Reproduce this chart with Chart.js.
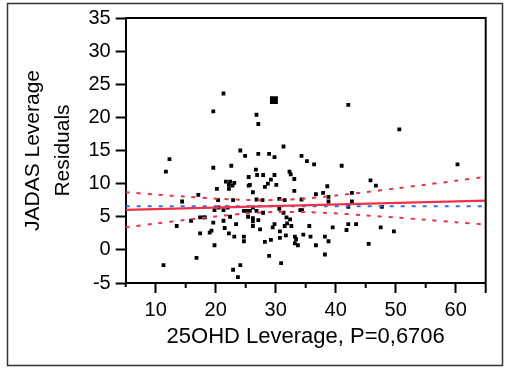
<!DOCTYPE html>
<html>
<head>
<meta charset="utf-8">
<script src="https://cdn.jsdelivr.net/npm/chart.js@4.4.1/dist/chart.umd.min.js"></script>
<style>
  html, body { margin: 0; padding: 0; background: #fff; }
</style>
</head>
<body>
<canvas id="chart" width="505" height="369"></canvas>
<script>
// --- données ---
const leverageX = [
  19.6, 21.3, 26.8, 27.1, 24.1, 24.9, 27.1, 28.9, 29.8, 31.3, 42.1, 50.6, 34.3,
  12.3, 11.7, 17.1, 14.4, 13.5, 15.9, 17.4, 18.0, 17.4, 16.8, 11.3,
  19.6, 22.6, 25.5, 21.7, 22.4, 23.1, 22.2, 22.8, 22.2, 20.2, 25.5, 20.4, 22.9,
  19.8, 20.5, 21.3, 22.0, 24.7, 25.2, 18.2, 21.3, 22.4, 19.6, 23.4, 25.4, 19.0,
  19.3, 22.2, 23.1, 24.7, 24.7, 19.8, 24.1, 22.9, 23.7,
  26.7, 26.9, 27.9, 29.8, 32.3, 29.2, 28.7, 28.2, 30.1, 25.7, 26.2, 26.8, 27.8,
  30.6, 31.5, 26.2, 25.7, 26.8, 27.9, 30.6, 31.3, 31.8, 26.2, 26.2, 26.2, 27.1,
  29.8, 29.5, 31.5, 31.9, 27.4, 30.7, 31.7, 28.2, 29.2, 30.7, 28.9, 30.9,
  35.2, 36.4, 32.5, 33.1, 33.1, 38.6, 36.7, 37.9, 38.8, 38.8, 34.3, 34.1, 34.4,
  32.4, 32.6, 35.6, 33.2, 33.4, 33.2, 33.7, 34.6, 35.8, 36.7, 38.2, 38.8, 38.2,
  41.0, 45.8, 46.7, 42.7, 42.7, 42.1, 39.5, 42.1, 43.4, 41.8, 45.5, 47.5, 60.3,
  47.7, 49.7, 21.5
];
const residualY = [
  20.9, 23.6, 20.4, 19.0, 15.0, 14.2, 14.5, 14.5, 14.0, 15.6, 21.9, 18.2, 14.2,
  13.7, 11.8, 8.3, 7.3, 3.6, 4.4, 4.9, 4.9, 2.5, -1.2, -2.3,
  12.4, 12.7, 11.0, 10.3, 10.3, 10.1, 9.8, 9.7, 9.2, 9.2, 9.7, 7.5, 7.5,
  6.0, 6.4, 6.0, 6.4, 5.9, 5.9, 4.9, 4.4, 5.0, 4.1, 3.9, 5.0, 2.6,
  2.9, 2.5, 2.0, 2.0, 1.3, 0.7, -2.3, -3.0, -4.1,
  12.1, 11.3, 11.3, 11.3, 11.8, 10.6, 10.0, 9.5, 9.8, 9.8, 8.7, 7.6, 7.5,
  7.7, 7.5, 6.4, 5.9, 5.9, 5.6, 6.2, 5.6, 4.9, 4.8, 4.3, 3.6, 4.5,
  3.9, 3.4, 3.6, 4.0, 3.1, 2.8, 2.2, 1.2, 1.5, 1.8, -0.9, -2.0,
  13.4, 12.9, 11.4, 10.7, 8.9, 9.6, 8.4, 8.6, 8.0, 7.3, 7.6, 6.0, 6.0,
  4.6, 3.6, 3.6, 2.0, 1.6, 1.0, 0.7, 2.3, 2.0, 0.7, 2.0, 1.3, -0.7,
  12.7, 10.5, 9.7, 8.6, 7.3, 6.5, 3.4, 3.9, 3.9, 3.0, 0.9, 3.4, 12.9,
  6.5, 2.8, 3.3
];

// point mis en évidence (gros carré)
const highlightX = [29.7];
const highlightY = [22.6];

// droite d'ajustement et moyenne
const fitX = [5, 65];
const fitY = [6.05, 7.42];
const meanY = [6.6, 6.6];

// bandes de confiance
const ciX = [5, 10, 15, 20, 25, 30, 35, 40, 45, 50, 55, 60, 65];
const ciUpper = [8.70, 8.35, 8.03, 7.73, 7.54, 7.52, 7.76, 8.19, 8.71, 9.27, 9.84, 10.42, 11.02];
const ciLower = [3.40, 3.97, 4.53, 5.05, 5.48, 5.72, 5.70, 5.51, 5.21, 4.89, 4.54, 4.18, 3.82];

const xTickValues = [10, 20, 30, 40, 50, 60];
const xMinorTicks = [15, 25, 35, 45, 55];
const yTitle = ['JADAS Leverage', 'Residuals'];
const xTitle = '25OHD Leverage, P=0,6706';

const RED = 'rgb(238, 48, 72)';
const BLUE = 'rgb(48, 110, 245)';
const FONT = '"Liberation Sans", Arial, sans-serif';

const toPoints = (xs, ys) => xs.map((x, i) => ({ x: x, y: ys[i] }));

// cadre extérieur, bords haut/droite et petites graduations
const cadrePlugin = {
    id: 'cadre',
    beforeDraw(chart) {
        const ctx = chart.ctx;
        ctx.save();
        ctx.fillStyle = '#fff';
        ctx.fillRect(0, 0, chart.width, chart.height);
        ctx.restore();
    },
    afterDraw(chart) {
        const { ctx, chartArea: a, scales } = chart;
        ctx.save();
        ctx.strokeStyle = '#000';
        ctx.lineWidth = 2;
        ctx.beginPath();
        ctx.moveTo(a.left, a.top);
        ctx.lineTo(a.right, a.top);
        ctx.lineTo(a.right, a.bottom + 10);
        ctx.moveTo(a.left, a.bottom);
        ctx.lineTo(a.left, a.bottom + 4);
        xMinorTicks.forEach(v => {
            const px = scales.x.getPixelForValue(v);
            ctx.moveTo(px, a.bottom);
            ctx.lineTo(px, a.bottom + 5);
        });
        ctx.stroke();

        ctx.lineWidth = 1.5;
        ctx.strokeStyle = '#333';
        ctx.strokeRect(7.5, 3.5, 495, 362);
        ctx.restore();
    }
};

new Chart(document.getElementById('chart'), {
    type: 'scatter',
    data: {
        datasets: [
            {
                label: 'fit',
                data: toPoints(fitX, fitY),
                showLine: true,
                borderColor: RED,
                borderWidth: 2.2,
                pointRadius: 0
            },
            {
                label: 'mean',
                data: toPoints(fitX, meanY),
                showLine: true,
                borderColor: BLUE,
                borderWidth: 2,
                borderDash: [4, 7],
                pointRadius: 0
            },
            {
                label: 'ci upper',
                data: toPoints(ciX, ciUpper),
                showLine: true,
                tension: 0.3,
                borderColor: RED,
                borderWidth: 2,
                borderDash: [4, 7],
                pointRadius: 0
            },
            {
                label: 'ci lower',
                data: toPoints(ciX, ciLower),
                showLine: true,
                tension: 0.3,
                borderColor: RED,
                borderWidth: 2,
                borderDash: [4, 7],
                pointRadius: 0
            },
            {
                label: 'highlight',
                data: toPoints(highlightX, highlightY),
                pointStyle: 'rect',
                pointRadius: 5.6,
                pointBorderWidth: 0,
                backgroundColor: '#000'
            },
            {
                label: 'residuals',
                data: toPoints(leverageX, residualY),
                pointStyle: 'rect',
                pointRadius: 2.7,
                pointBorderWidth: 0,
                backgroundColor: '#000'
            }
        ]
    },
    options: {
        responsive: false,
        animation: false,
        devicePixelRatio: 1,
        layout: { padding: { left: 0, right: 19.3, top: 18, bottom: 19 } },
        plugins: {
            legend: { display: false },
            tooltip: { enabled: false }
        },
        scales: {
            x: {
                type: 'linear',
                min: 5,
                max: 65,
                afterBuildTicks: s => { s.ticks = xTickValues.map(v => ({ value: v })); },
                afterFit: s => { s.height = 67; },
                ticks: {
                    color: '#000',
                    font: { family: FONT, size: 20 },
                    padding: 5,
                    maxRotation: 0,
                    autoSkip: false
                },
                grid: { drawOnChartArea: false, tickLength: 10, tickWidth: 2, tickColor: '#000' },
                border: { color: '#000', width: 2 },
                title: {
                    display: true,
                    text: xTitle,
                    color: '#000',
                    font: { family: FONT, size: 22 },
                    padding: 0
                }
            },
            y: {
                min: -5,
                max: 35,
                afterFit: s => { s.width = 125.7; },
                ticks: {
                    stepSize: 5,
                    color: '#000',
                    font: { family: FONT, size: 20 },
                    padding: 5
                },
                grid: { drawOnChartArea: false, tickLength: 10, tickWidth: 2, tickColor: '#000' },
                border: { color: '#000', width: 2 },
                title: {
                    display: true,
                    text: yTitle,
                    color: '#000',
                    font: { family: FONT, size: 21, lineHeight: '30px' },
                    padding: { top: 18, bottom: 0 }
                }
            }
        }
    },
    plugins: [cadrePlugin]
});
</script>
</body>
</html>
